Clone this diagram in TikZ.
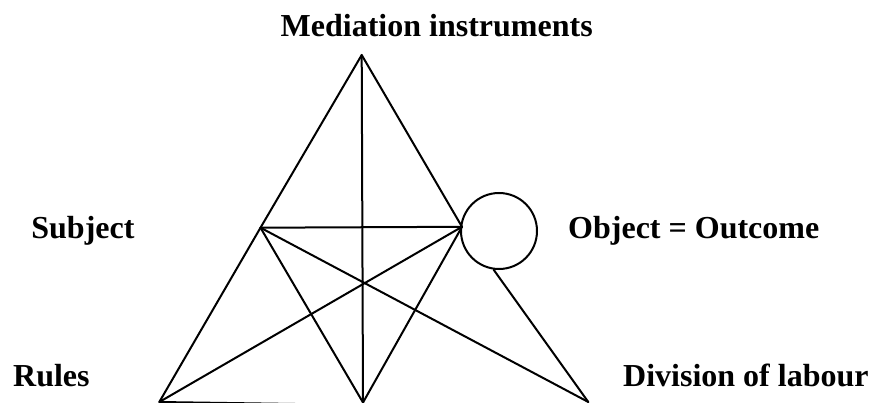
\documentclass[tikz,border=0pt]{standalone}
\usepackage{fontspec}
\setmainfont{Liberation Serif}
\begin{document}
\begin{tikzpicture}[x=1pt,y=-1pt,
  edge/.style={line width=2pt, line cap=round, line join=round},
  lbl/.style={font=\fontsize{32}{38}\selectfont\bfseries, anchor=base west, inner sep=0pt}]
\useasboundingbox (0,0) rectangle (870,403);
% points
\coordinate (A) at (361.7,55);
\coordinate (S) at (260.5,227.7);
\coordinate (O) at (462,226.8);
\coordinate (BL) at (159.3,402);
\coordinate (BM) at (363,402.5);
\coordinate (BR) at (588.3,402);
\node[draw, circle, line width=2pt, minimum size=76pt, inner sep=0pt] (circ) at (499,231) {};
% labels
\node[lbl, anchor=base] (tmed) at (436.7,36.5) {Mediation instruments};
\node[lbl] (tsub) at (31.2,238.3) {Subject};
\node[lbl] (tobj) at (568,238.3) {Object = Outcome};
\node[lbl] (trul) at (13,386.7) {Rules};
\node[lbl] (tdiv) at (623,386.7) {Division of labour};
% triangle and inner lines
\draw[edge] (BL) -- (S) -- (A) -- (O);
\draw[edge] (A) -- (BM);
\draw[edge] (S) -- (O);
\draw[edge] (S) -- (BM);
\draw[edge] (S) -- (BR);
\draw[edge] (O) -- (BL);
\draw[edge] (O) -- (BM);
\draw[edge] (circ.262) -- (BR);
\draw[edge, line cap=butt] (BL) -- ([yshift=-2.5pt]BM);
\end{tikzpicture}
\end{document}
